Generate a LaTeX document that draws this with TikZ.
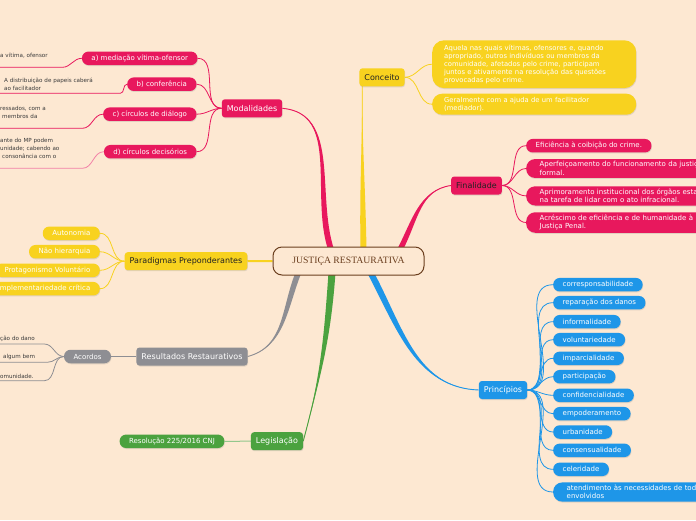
\documentclass[tikz,border=0pt]{standalone}
\usepackage{fontspec}
\setmainfont{DejaVu Sans}
\newfontfamily\rootfont{Liberation Serif}
\usetikzlibrary{calc,shadows}

\definecolor{bgpeach}{HTML}{FDE8D2}
\definecolor{crim}{HTML}{E8185D}
\definecolor{gold}{HTML}{F8D21F}
\definecolor{slate}{HTML}{8E8E93}
\definecolor{leaf}{HTML}{4BA23F}
\definecolor{sky}{HTML}{1E96E8}
\definecolor{rootbrown}{HTML}{6B3E1E}
\definecolor{notegray}{HTML}{3A3A3A}
\definecolor{inkdark}{HTML}{222222}

\pgfdeclarelayer{paper}
\pgfdeclarelayer{links}
\pgfsetlayers{paper,links,main}

\tikzset{
  softshadow/.style={drop shadow={shadow xshift=0.5pt, shadow yshift=-1pt, opacity=0.22}},
  rootbox/.style={draw=rootbrown, line width=1pt, rounded corners=9pt, fill=bgpeach,
    minimum width=151pt, minimum height=28pt, text=rootbrown,
    font=\rootfont\fontsize{9.7}{11}\selectfont},
  topic/.style={softshadow, rounded corners=3pt, minimum height=18pt, inner xsep=5pt,
    inner ysep=2pt, font=\fontsize{8}{9.6}\selectfont},
  leafbox/.style={softshadow, rounded corners=6.5pt, minimum height=13.5pt, inner xsep=9.5pt,
    inner ysep=1.5pt, text=white, font=\fontsize{7}{8.4}\selectfont},
  wideleaf/.style={leafbox, align=left, text width=#1, inner xsep=13.5pt, inner ysep=2.6pt,
    rounded corners=9pt, font=\fontsize{7}{8.3}\selectfont},
  notetext/.style={anchor=south west, align=left, text width=#1, inner xsep=4pt,
    inner ysep=2.2pt, text=notegray, font=\fontsize{5.6}{7.9}\selectfont},
  twig/.style={line width=0.8pt},
}

% tapered main branch: colour, start, half width, end, out, in
\newcommand{\branchtaper}[6]{%
  \fill[#1] ($(#2)+(-#3,0)$) to[out=#5,in=#6] (#4) to[out=#6,in=#5] ($(#2)+(#3,0)$) -- cycle;
  \draw[#1, line width=0.9pt] (#2) to[out=#5,in=#6] (#4);}

\begin{document}
\begin{tikzpicture}[x=1pt, y=-1pt, line cap=round, line join=round]

  %% ════ 纸面 ════
  \begin{pgfonlayer}{paper}
    \fill[bgpeach] (0,0) rectangle (696,520);
  \end{pgfonlayer}

  %% ════ 中心 ════
  \node[rootbox] (root) at (348.5,261) {JUSTIÇA RESTAURATIVA};

  %% ════ 一级节点 ════
  \node[topic, fill=gold, text=inkdark] (conceito) at (382,77.3) {Conceito};
  \node[topic, fill=crim, text=white] (modal) at (252,108.3) {Modalidades};
  \node[topic, fill=crim, text=inkdark] (final) at (476.5,185.5) {Finalidade};
  \node[topic, fill=gold, text=inkdark] (paradig) at (186,261.2) {Paradigmas Preponderantes};
  \node[topic, fill=slate, text=white] (result) at (192,356.5) {Resultados Restaurativos};
  \node[topic, fill=leaf, text=white] (legis) at (277,441.2) {Legislação};
  \node[topic, fill=sky, text=white] (princ) at (503,390) {Princípios};

  %% ════ Conceito ════
  \node[wideleaf=180pt, fill=gold, anchor=west, inner xsep=12pt, inner ysep=4.5pt,
    rounded corners=12pt, font=\fontsize{6.8}{8}\selectfont] (conc1) at (432,64.2)
    {Aquela nas quais vítimas, ofensores e, quando\\apropriado, outros indivíduos ou membros da\\comunidade, afetados pelo crime, participam\\juntos e ativamente na resolução das questões\\provocadas pelo crime.};
  \node[wideleaf=180pt, fill=gold, anchor=west, inner xsep=12pt, inner ysep=3.5pt,
    rounded corners=10pt, font=\fontsize{6.8}{8}\selectfont] (conc2) at (432,104.2)
    {Geralmente com a ajuda de um facilitador\\(mediador).};

  %% ════ Finalidade ════
  \node[leafbox, fill=crim, anchor=west] (fin1) at (526,145.7) {Eficiência à coibição do crime.};
  \node[wideleaf=180pt, fill=crim, anchor=west] (fin2) at (526,168.5)
    {Aperfeiçoamento do funcionamento da justiça\\formal.};
  \node[wideleaf=180pt, fill=crim, anchor=west] (fin3) at (526,195.9)
    {Aprimoramento institucional dos órgãos estatais\\na tarefa de lidar com o ato infracional.};
  \node[wideleaf=180pt, fill=crim, anchor=west] (fin4) at (526,222.5)
    {Acréscimo de eficiência e de humanidade à\\Justiça Penal.};

  %% ════ Modalidades ════
  \node[leafbox, fill=crim, anchor=east] (modA) at (197.7,58.3) {a) mediação vítima-ofensor};
  \node[leafbox, fill=crim, anchor=east] (modB) at (196.7,84.2) {b) conferência};
  \node[leafbox, fill=crim, anchor=east] (modC) at (196.7,114.2) {c) círculos de diálogo};
  \node[leafbox, fill=crim, anchor=east] (modD) at (196.7,151.7) {d) círculos decisórios};

  \node[notetext=58pt] (noteA) at (-4,67.3) {a vítima, ofensor\\\mbox{}};
  \node[notetext=112pt] (noteB) at (0,93.3) {A distribuição de papeis caberá\\ao facilitador};
  \node[notetext=78pt] (noteC) at (-4,128.3) {ressados, com a\\\hspace*{2pt}membros da\\\mbox{}};
  \node[notetext=78pt] (noteD) at (-4,168.3) {ante do MP podem\\unidade; cabendo ao\\\hspace*{2pt}consonância com o\\\mbox{}};

  %% ════ Paradigmas ════
  \node[leafbox, fill=gold, anchor=east] (par1) at (100,233.3) {Autonomia};
  \node[leafbox, fill=gold, anchor=east] (par2) at (100,251.7) {Não hierarquia};
  \node[leafbox, fill=gold, anchor=east] (par3) at (100,270.3) {Protagonismo Voluntário};
  \node[leafbox, fill=gold, anchor=east] (par4) at (100,288.7) {Complementariedade crítica};

  %% ════ Resultados ════
  \node[leafbox, fill=slate] (acordos) at (87.5,356.5) {Acordos};
  \node[notetext=40pt] (acor1) at (-4,344) {ção do dano};
  \node[notetext=40pt] (acor2) at (-1,362.3) {algum bem};
  \node[notetext=40pt] (acor3) at (-4,380.7) {omunidade.};

  %% ════ Legislação ════
  \node[leafbox, fill=leaf] (resol) at (172,441.3) {Resolução 225/2016 CNJ};

  %% ════ Princípios ════
  \node[leafbox, fill=sky, anchor=west] (pr1) at (553,284.7) {corresponsabilidade};
  \node[leafbox, fill=sky, anchor=west] (pr2) at (553,302.7) {reparação dos danos};
  \node[leafbox, fill=sky, anchor=west] (pr3) at (553,321.7) {informalidade};
  \node[leafbox, fill=sky, anchor=west] (pr4) at (553,339.7) {voluntariedade};
  \node[leafbox, fill=sky, anchor=west] (pr5) at (553,358.3) {imparcialidade};
  \node[leafbox, fill=sky, anchor=west] (pr6) at (553,376.7) {participação};
  \node[leafbox, fill=sky, anchor=west] (pr7) at (553,395.3) {confidencialidade};
  \node[leafbox, fill=sky, anchor=west] (pr8) at (553,413.7) {empoderamento};
  \node[leafbox, fill=sky, anchor=west] (pr9) at (553,432) {urbanidade};
  \node[leafbox, fill=sky, anchor=west] (pr10) at (553,450.3) {consensualidade};
  \node[leafbox, fill=sky, anchor=west] (pr11) at (553,469.3) {celeridade};
  \node[wideleaf=180pt, fill=sky, anchor=west] (pr12) at (553,492)
    {atendimento às necessidades de todos os\\envolvidos};

  %% ════ 连线 ════
  \begin{pgfonlayer}{links}
    % 主干（锥形）
    \coordinate (bConc) at ($(root.north)+(15,3)$);
    \coordinate (bMod)  at ($(root.north)+(-17.5,3)$);
    \coordinate (bFin)  at ($(root.north)+(51.5,3)$);
    \coordinate (bRes)  at ($(root.south)+(-50,-3)$);
    \coordinate (bLeg)  at ($(root.south)+(-16.5,-3)$);
    \coordinate (bPri)  at ($(root.south)+(22,-3)$);
    \coordinate (eConc) at ($(conceito.south west)+(3,-1)$);

    \branchtaper{gold}{bConc}{3}{eConc}{91}{-90}
    \branchtaper{crim}{bMod}{3}{modal.east}{108}{-5}
    \branchtaper{crim}{bFin}{3}{final.west}{62}{188}
    \branchtaper{slate}{bRes}{3}{result.east}{-112}{15}
    \branchtaper{leaf}{bLeg}{3.5}{legis.east}{-94}{75}
    \branchtaper{sky}{bPri}{3.5}{princ.west}{-62}{178}
    \draw[gold, line width=2pt] (root.west) -- (paradig.east);

    % 二级
    \draw[twig, gold] (conceito.east) to[out=0,in=180] (conc1.west);
    \draw[twig, gold] (conceito.east) to[out=0,in=180] (conc2.west);

    \draw[twig, crim] (final.east) to[out=0,in=180] (fin1.west);
    \draw[twig, crim] (final.east) to[out=0,in=180] (fin2.west);
    \draw[twig, crim] (final.east) to[out=0,in=180] (fin3.west);
    \draw[twig, crim] (final.east) to[out=0,in=180] (fin4.west);

    \draw[twig, crim] (modal.west) to[out=180,in=0] (modA.east);
    \draw[twig, crim] (modal.west) to[out=180,in=0] (modB.east);
    \draw[twig, crim] (modal.west) to[out=180,in=0] (modC.east);
    \draw[twig, crim] (modal.west) to[out=180,in=0] (modD.east);

    \draw[twig, crim] (modA.west) to[out=180,in=0] (noteA.south east) -- (noteA.south west);
    \draw[twig, crim] (modB.west) to[out=180,in=0] (noteB.south east) -- (noteB.south west);
    \draw[twig, crim] (modC.west) to[out=180,in=0] (noteC.south east) -- (noteC.south west);
    \draw[twig, crim!55] (modD.west) to[out=180,in=0] (noteD.south east) -- (noteD.south west);

    \draw[twig, gold] (paradig.west) to[out=180,in=0] (par1.east);
    \draw[twig, gold] (paradig.west) to[out=180,in=0] (par2.east);
    \draw[twig, gold] (paradig.west) to[out=180,in=0] (par3.east);
    \draw[twig, gold] (paradig.west) to[out=180,in=0] (par4.east);

    \draw[twig, slate, line width=1pt] (result.west) -- (acordos.east);
    \draw[twig, slate] (acordos.west) to[out=180,in=0] (acor1.south east) -- (acor1.south west);
    \draw[twig, slate] (acordos.west) to[out=180,in=0] (acor2.south east) -- (acor2.south west);
    \draw[twig, slate] (acordos.west) to[out=180,in=0] (acor3.south east) -- (acor3.south west);

    \draw[twig, leaf!60, line width=1pt] (legis.west) -- (resol.east);

    \draw[twig, sky] (princ.east) to[out=0,in=180] (pr1.west);
    \draw[twig, sky] (princ.east) to[out=0,in=180] (pr2.west);
    \draw[twig, sky] (princ.east) to[out=0,in=180] (pr3.west);
    \draw[twig, sky] (princ.east) to[out=0,in=180] (pr4.west);
    \draw[twig, sky] (princ.east) to[out=0,in=180] (pr5.west);
    \draw[twig, sky] (princ.east) to[out=0,in=180] (pr6.west);
    \draw[twig, sky] (princ.east) to[out=0,in=180] (pr7.west);
    \draw[twig, sky] (princ.east) to[out=0,in=180] (pr8.west);
    \draw[twig, sky] (princ.east) to[out=0,in=180] (pr9.west);
    \draw[twig, sky] (princ.east) to[out=0,in=180] (pr10.west);
    \draw[twig, sky] (princ.east) to[out=0,in=180] (pr11.west);
    \draw[twig, sky] (princ.east) to[out=0,in=180] (pr12.west);
  \end{pgfonlayer}

  % 钉死画布
  \pgfresetboundingbox
  \path[use as bounding box] (0,0) rectangle (696,520);
\end{tikzpicture}
\end{document}
